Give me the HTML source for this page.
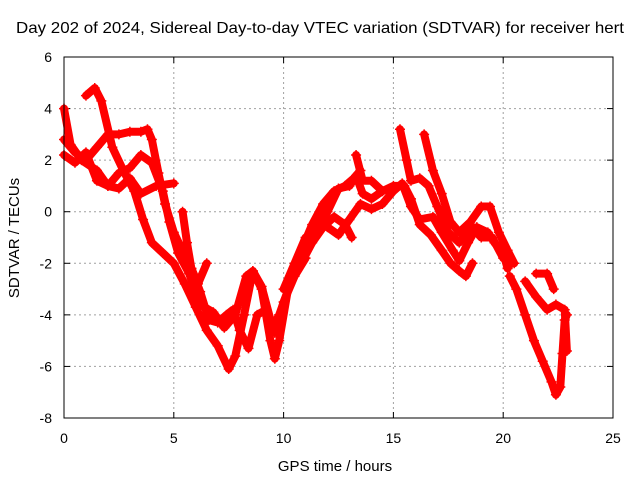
<!DOCTYPE html>
<html><head><meta charset="utf-8"><style>
body{margin:0;background:#fff}
svg text{font-family:"Liberation Sans",sans-serif;font-size:14px;fill:#000}
</style></head><body>
<svg id="c" width="640" height="480">
<rect width="640" height="480" fill="#fff"/>
<text x="16" y="33" textLength="608" lengthAdjust="spacingAndGlyphs" style="font-size:16px">Day 202 of 2024, Sidereal Day-to-day VTEC variation (SDTVAR) for receiver hert</text>
<text x="335" y="471" text-anchor="middle" style="font-size:15px">GPS time / hours</text>
<text transform="translate(19,238) rotate(-90)" text-anchor="middle" style="font-size:15px">SDTVAR / TECUs</text>
<g id="grid"></g><g id="ticks"></g><g id="marks"></g>
<rect x="64" y="57" width="549" height="361" fill="none" stroke="#000" stroke-width="1"/>
</svg>
<script>
const xTicks=[0,5,10,15,20,25];
const yTicks=[6,4,2,0,-2,-4,-6,-8];
const s1=[[0,4.0],[0.3,2.6],[0.8,2.0],[1.5,1.6],[2.0,1.0],[2.5,0.9],[3.0,1.3],[3.5,0.7],[4.2,1.0],[5.0,1.1]];
const s2=[[1.0,4.5],[1.4,4.8],[1.7,4.3],[2.2,2.5],[2.7,1.6],[3.2,0.8],[3.6,-0.3],[4.0,-1.2],[4.5,-1.6],[5.0,-2.0],[5.5,-2.8],[6.0,-3.7],[6.5,-4.6],[7.0,-5.2],[7.5,-6.1],[7.8,-5.6],[8.2,-4.0],[8.6,-2.3],[9.0,-3.0],[9.4,-5.0],[9.6,-5.7],[9.8,-5.0],[10.2,-3.0],[10.8,-1.5],[11.3,-0.5],[11.8,0.3],[12.3,0.8],[12.8,1.0],[13.2,1.3],[13.5,1.6]];
const s3=[[0,2.8],[0.5,2.3],[1.0,2.0],[1.5,2.5],[2.0,3.0],[2.5,3.0],[3.0,3.1],[3.5,3.1],[3.8,3.2],[4.0,2.8],[4.3,1.5],[4.6,0.3],[5.0,-0.8],[5.5,-1.7],[5.8,-2.2],[6.2,-3.1],[6.6,-4.2],[7.0,-4.3],[7.4,-4.0],[7.7,-3.8],[8.0,-4.6],[8.4,-5.3],[8.8,-4.0],[9.2,-3.8],[9.6,-4.7],[10.0,-3.5],[10.5,-2.5],[11.0,-1.8]];
const s4=[[0,2.2],[0.5,1.9],[1.0,2.3],[1.5,1.2],[2.0,1.0],[2.5,1.5],[3.0,1.7],[3.5,2.2],[4.0,1.9],[4.5,0.8],[4.8,-0.4],[5.2,-1.6],[5.7,-2.4],[6.2,-3.6],[6.8,-3.9],[7.3,-4.5],[7.8,-4.0],[8.3,-2.5],[8.6,-2.3],[9.0,-2.9],[9.5,-4.5],[9.8,-4.0],[10.3,-2.8],[10.8,-2.0],[11.3,-1.2],[11.8,-0.6],[12.3,-0.2],[12.8,-0.5],[13.1,-1.0]];
const s5=[[5.4,0.0],[5.6,-1.2],[5.8,-2.2],[6.1,-2.8],[6.5,-2.0]];
const s6=[[10.0,-3.0],[10.5,-2.0],[11.0,-1.0],[11.5,-0.8],[12.0,0.0],[12.5,0.9],[13.0,1.0],[13.3,1.4],[13.6,0.7],[14.0,0.5],[14.5,0.8],[15.0,1.0],[15.5,1.0],[15.8,0.5],[16.2,-0.5],[16.7,-0.9],[17.2,-1.5],[17.6,-2.0],[18.0,-2.3],[18.3,-2.5],[18.6,-2.0]];
const s7=[[12.0,-0.6],[12.5,-0.9],[13.0,-0.3],[13.5,0.3],[14.0,0.1],[14.5,0.3],[15.0,0.8],[15.4,1.1],[15.8,0.2],[16.2,-0.3],[16.8,-0.2],[17.2,-0.8],[17.7,-1.5],[18.0,-1.9],[18.4,-1.2],[18.8,-0.6],[19.3,-0.8],[19.6,-1.2],[20.0,-1.6],[20.2,-2.2]];
const s8=[[13.3,2.2],[13.6,1.2],[14.0,1.2],[14.5,0.8]];
const s9=[[15.3,3.2],[15.6,2.0],[15.8,1.2],[16.2,1.3],[16.6,1.0],[17.0,0.2],[17.5,-0.8],[18.0,-1.2],[18.5,-0.5],[19.0,-1.0],[19.5,-1.0],[20.0,-1.8],[20.4,-2.0]];
const s10=[[16.4,3.0],[16.8,1.6],[17.2,0.7],[17.6,-0.4],[18.0,-0.8],[18.5,-0.4],[19.0,0.2],[19.4,0.2],[19.8,-0.8],[20.2,-1.5],[20.5,-2.0]];
const s11=[[20.3,-2.5],[20.6,-3.0],[21.0,-4.0],[21.4,-5.0],[21.8,-5.8],[22.2,-6.6],[22.4,-7.1],[22.6,-6.8],[22.7,-5.5],[22.8,-4.2],[22.9,-4.0]];
const s12=[[21.0,-2.7],[21.5,-3.3],[22.0,-3.8],[22.4,-3.6],[22.8,-3.8],[22.9,-5.4]];
const s13=[[21.5,-2.4],[22.0,-2.4],[22.3,-3.0]];
const series=[s1,s2,s3,s4,s5,s6,s7,s8,s9,s10,s11,s12,s13];
const X0=64,X1=613,Y0=418,Y1=57,XMIN=0,XMAX=25,YMIN=-8,YMAX=6;
const sx=v=>X0+(v-XMIN)/(XMAX-XMIN)*(X1-X0);
const sy=v=>Y0-(v-YMIN)/(YMAX-YMIN)*(Y0-Y1);
const NS='http://www.w3.org/2000/svg';
function mk(t,a,p){const e=document.createElementNS(NS,t);for(const k in a)e.setAttribute(k,a[k]);p.appendChild(e);return e;}
const grid=document.getElementById('grid'),ticks=document.getElementById('ticks'),marks=document.getElementById('marks');
xTicks.forEach(t=>{const x=sx(t);
 if(t>XMIN&&t<XMAX){const g=mk('line',{x1:x,x2:x,y1:Y1,y2:Y0,stroke:'#a0a0a0','stroke-dasharray':'2,3'},grid);
 
 }
 mk('line',{x1:x,x2:x,y1:Y0,y2:Y0-6,stroke:'#000'},ticks);mk('line',{x1:x,x2:x,y1:Y1,y2:Y1+6,stroke:'#000'},ticks);
 const l=mk('text',{x:x,y:443,'text-anchor':'middle'},ticks);l.textContent=t;
 
 });
yTicks.forEach(t=>{const y=sy(t);
 if(t>YMIN&&t<YMAX){const g=mk('line',{x1:X0,x2:X1,y1:y,y2:y,stroke:'#a0a0a0','stroke-dasharray':'2,3'},grid);
 
 }
 mk('line',{x1:X0,x2:X0+6,y1:y,y2:y,stroke:'#000'},ticks);mk('line',{x1:X1,x2:X1-6,y1:y,y2:y,stroke:'#000'},ticks);
 const l=mk('text',{x:52,y:y+5,'text-anchor':'end'},ticks);l.textContent=t;
 
 });
series.forEach((s,i)=>{
 const p=mk('polyline',{points:s.map(d=>sx(d[0])+','+sy(d[1])).join(' '),fill:'none',stroke:'#ff0000','stroke-width':8,'stroke-linejoin':'round','stroke-linecap':'round'},marks);
 
 
 s.forEach(d=>{const x=sx(d[0]),y=sy(d[1]);
  const m=mk('path',{d:`M${x-5},${y}H${x+5}M${x},${y-5}V${y+5}`,stroke:'#ff0000','stroke-width':1.5},marks);
  
  });
});
</script>
</body></html>
